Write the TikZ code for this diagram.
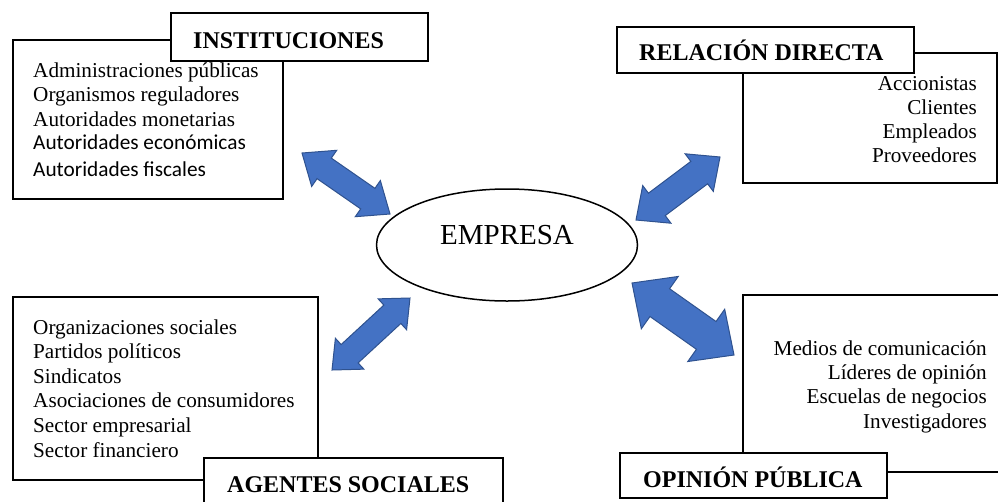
\documentclass[tikz,border=0pt]{standalone}
\usepackage{fontspec}
\setmainfont{Liberation Serif}
\newfontfamily\calib{Carlito}
\usetikzlibrary{calc,shapes.geometric}
\definecolor{arrfill}{HTML}{4472C4}
\definecolor{arrline}{HTML}{2F528F}
\tikzset{
  bigbox/.style={draw=black, line width=1.6pt, fill=white, inner sep=0pt},
  titlebox/.style={draw=black, line width=1.8pt, fill=white, inner sep=0pt},
  titletext/.style={font=\fontsize{24}{28}\selectfont\bfseries, inner sep=0pt},
  bodytext/.style={font=\fontsize{21.2}{24}\selectfont, inner sep=0pt},
  sanstext/.style={font=\calib\fontsize{21.3}{24}\selectfont, inner sep=0pt},
  bluearrow/.style={fill=arrfill, draw=arrline, line width=1pt, line join=miter}
}
\newcommand{\dblarr}[5]{%
  \coordinate (hA) at ($(#1)!#5!(#2)$);
  \coordinate (hB) at ($(#2)!#5!(#1)$);
  \filldraw[bluearrow] (#1) -- ($(hA)!#3!90:(#2)$) -- ($(hA)!#4!90:(#2)$)
    -- ($(hB)!#4!-90:(#1)$) -- ($(hB)!#3!-90:(#1)$) -- (#2)
    -- ($(hB)!#3!90:(#1)$) -- ($(hB)!#4!90:(#1)$)
    -- ($(hA)!#4!-90:(#2)$) -- ($(hA)!#3!-90:(#2)$) -- cycle;}
\begin{document}
\begin{tikzpicture}[x=1pt,y=-1pt]
\useasboundingbox (0,0) rectangle (998,501);
\clip (0,0) rectangle (998,501);
\fill[white] (0,0) rectangle (998,501);

% INSTITUCIONES
\node[bigbox, minimum width=270pt, minimum height=159pt] (instbox) at (148,119.5) {};
\node[titlebox, minimum width=257pt, minimum height=48pt] (insttitle) at (299.5,37) {};
\node[titletext, anchor=base west] (insttxt) at (193,48) {INSTITUCIONES};
\foreach \t [count=\i] in {Administraciones públicas, Organismos reguladores, Autoridades monetarias}
  \node[bodytext, anchor=base west] (ins\i) at (33,{77+24.5*(\i-1)}) {\t};
\node[sanstext, anchor=base west] (ins4) at (33,149) {Autoridades económicas};
\node[sanstext, anchor=base west] (ins5) at (33,176) {Autoridades fiscales};

% RELACION DIRECTA
\node[bigbox, minimum width=254pt, minimum height=130pt] (relbox) at (870,118) {};
\node[titlebox, minimum width=297pt, minimum height=46pt] (reltitle) at (765.5,50) {};
\node[titletext, anchor=base west] (reltxt) at (639,60) {RELACIÓN DIRECTA};
\foreach \t [count=\i] in {Accionistas, Clientes, Empleados, Proveedores}
  \node[bodytext, anchor=base east] (rel\i) at (977,{90+24.3*(\i-1)}) {\t};

% AGENTES SOCIALES
\node[bigbox, minimum width=305pt, minimum height=183pt] (agebox) at (165.5,388.5) {};
\node[titlebox, minimum width=299pt, minimum height=50pt] (agetitle) at (353.5,483) {};
\node[titletext, anchor=base west] (agetxt) at (227,492) {AGENTES SOCIALES};
\foreach \t [count=\i] in {Organizaciones sociales, Partidos políticos, Sindicatos, Asociaciones de consumidores, Sector empresarial, Sector financiero}
  \node[bodytext, anchor=base west] (age\i) at (33,{334+24.6*(\i-1)}) {\t};

% OPINION PUBLICA
\node[bigbox, minimum width=267pt, minimum height=177pt] (opibox) at (876.5,383.5) {};
\node[titlebox, minimum width=267pt, minimum height=45pt] (opititle) at (753.5,475.5) {};
\node[titletext, anchor=base west] (opitxt) at (643,487) {OPINIÓN PÚBLICA};
\foreach \t [count=\i] in {Medios de comunicación, Líderes de opinión, Escuelas de negocios, Investigadores}
  \node[bodytext, anchor=base east] (opi\i) at (987,{355+24.4*(\i-1)}) {\t};

% EMPRESA
\node[draw=black, line width=1.5pt, ellipse, minimum width=261pt, minimum height=112pt,
  font=\fontsize{29}{32}\selectfont, text height=20pt, text depth=22pt] (emp) at (507,245) {EMPRESA};

% arrows
\coordinate (a1s) at (302,153); \coordinate (a1e) at (390,214);
\coordinate (a2s) at (636,220); \coordinate (a2e) at (720,157);
\coordinate (a3s) at (332,370); \coordinate (a3e) at (410,298);
\coordinate (a4s) at (632,283); \coordinate (a4e) at (734,355);
\dblarr{a1s}{a1e}{22pt}{12.5pt}{27pt}
\dblarr{a2s}{a2e}{23.5pt}{14pt}{26pt}
\dblarr{a3s}{a3e}{21pt}{12.5pt}{24pt}
\dblarr{a4s}{a4e}{32pt}{17pt}{34pt}
\end{tikzpicture}
\end{document}
